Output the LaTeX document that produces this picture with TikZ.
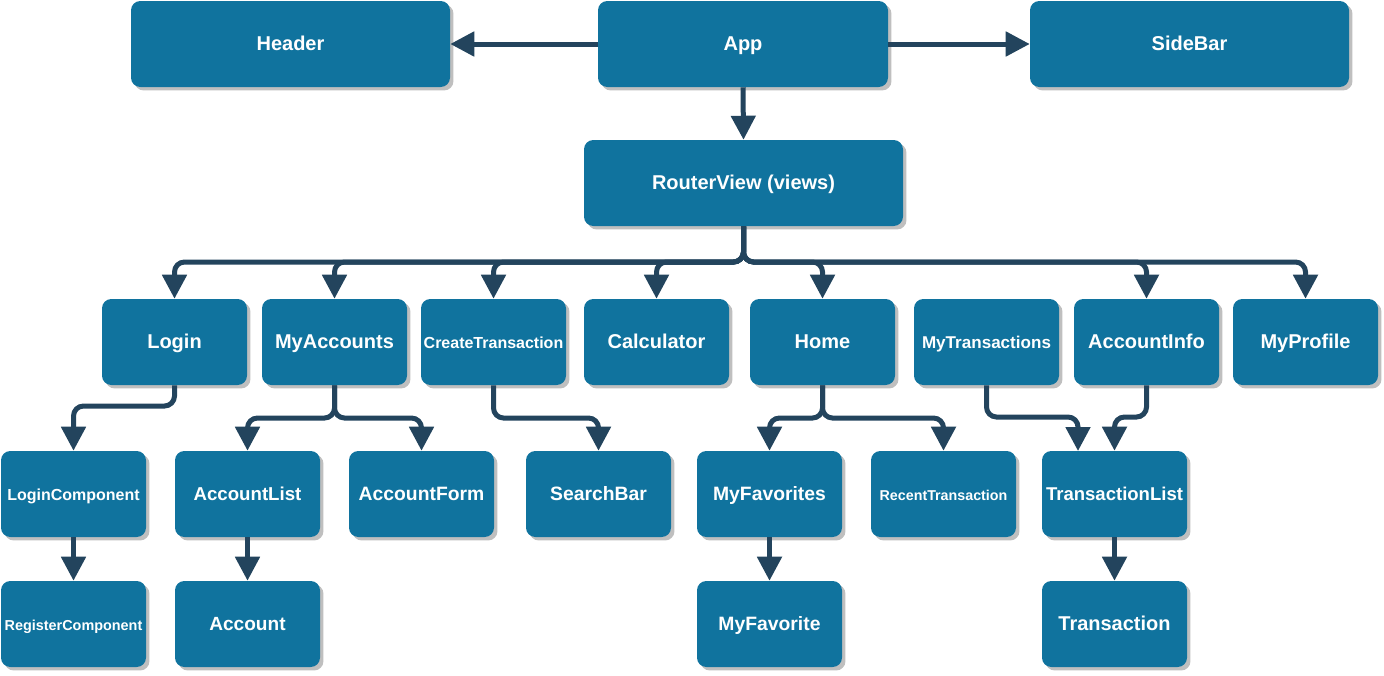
\documentclass[tikz,border=0pt]{standalone}
\usepackage{fontspec}
\setmainfont{Liberation Sans}
\usetikzlibrary{arrows.meta,shadows}
\definecolor{boxblue}{HTML}{10739E}
\definecolor{arrowblue}{HTML}{23445D}
\definecolor{shadowgray}{HTML}{BFBFBF}
\tikzset{
  comp/.style={fill=boxblue, rounded corners=7pt, text=white, inner sep=0pt,
    font=\bfseries\fontsize{15pt}{18pt}\selectfont,
    text height=1.0em, text depth=0pt,
    minimum width=108.75pt, minimum height=64.5pt,
    drop shadow={shadow xshift=2.6pt, shadow yshift=-2.6pt, fill=shadowgray, opacity=1}},
  wide/.style={minimum width=239.25pt},
  appw/.style={minimum width=217.5pt},
  conn/.style={draw=arrowblue, line width=3.75pt, rounded corners=7.5pt,
    -{Triangle[length=18pt,width=18pt]}},
  fs/.style={font=\bfseries\fontsize{#1}{#1}\selectfont}
}
\begin{document}
\begin{tikzpicture}[x=0.75pt,y=-0.75pt]
\useasboundingbox (0,0) rectangle (1384,675);
% top
\node[comp,wide] (header) at (290.5,44) {Header};
\node[comp,appw] (app) at (743,44) {App};
\node[comp,wide] (sidebar) at (1189.5,44) {SideBar};
\node[comp,wide] (rv) at (743.5,183) {RouterView (views)};
% row 2
\node[comp] (login) at (174.5,342) {Login};
\node[comp] (myacc) at (334.5,342) {MyAccounts};
\node[comp,fs=12pt] (ct) at (493.5,342) {CreateTransaction};
\node[comp] (calc) at (656.5,342) {Calculator};
\node[comp] (home) at (822.5,342) {Home};
\node[comp,fs=12.8pt] (mytx) at (986.5,342) {MyTransactions};
\node[comp] (accinfo) at (1146.5,342) {AccountInfo};
\node[comp] (profile) at (1305.5,342) {MyProfile};
% row 3
\node[comp,fs=12pt] (lc) at (73.5,494) {LoginComponent};
\node[comp,fs=14pt] (al) at (247.5,494) {AccountList};
\node[comp,fs=14.5pt] (af) at (421.5,494) {AccountForm};
\node[comp,fs=14.5pt] (sb) at (598.5,494) {SearchBar};
\node[comp,fs=14.5pt] (mf) at (769.5,494) {MyFavorites};
\node[comp,fs=10.7pt] (rt) at (943.5,494) {RecentTransaction};
\node[comp,fs=13.9pt] (tl) at (1114.5,494) {TransactionList};
% row 4
\node[comp,fs=10.8pt] (rc) at (73.5,624) {RegisterComponent};
\node[comp,fs=14.3pt] (acc) at (247.5,624) {Account};
\node[comp,fs=14.5pt] (fav) at (769.5,624) {MyFavorite};
\node[comp] (tx) at (1114.5,624) {Transaction};
% bus levels
\coordinate (busA) at (0,262);
\coordinate (busL) at (0,406);
\coordinate (busB) at (0,418);
\coordinate (busT) at (0,417);
\coordinate (tlin) at (1078,451);
% top connectors
\draw[conn] (app.west) -- (header.east);
\draw[conn] (app.east) -- (sidebar.east -| sidebar.west);
\draw[conn] (app.south) -- (rv.north);
% router view
\foreach \c in {login,myacc,ct,calc,home,accinfo,profile}
  \draw[conn] (rv.south) -- (rv.south |- busA) -- (\c.north |- busA) -- (\c.north);
% row 2 -> row 3
\draw[conn] (login.south) -- (login.south |- busL) -- (lc.north |- busL) -- (lc.north);
\draw[conn] (myacc.south) -- (myacc.south |- busB) -- (al.north |- busB) -- (al.north);
\draw[conn] (myacc.south) -- (myacc.south |- busB) -- (af.north |- busB) -- (af.north);
\draw[conn] (ct.south) -- (ct.south |- busB) -- (sb.north |- busB) -- (sb.north);
\draw[conn] (home.south) -- (home.south |- busB) -- (mf.north |- busB) -- (mf.north);
\draw[conn] (home.south) -- (home.south |- busB) -- (rt.north |- busB) -- (rt.north);
\draw[conn] (mytx.south) -- (mytx.south |- busT) -- (tlin |- busT) -- (tlin);
\draw[conn] (accinfo.south) -- (accinfo.south |- busT) -- (tl.north |- busT) -- (tl.north);
% row 3 -> row 4
\draw[conn] (lc.south) -- (rc.north);
\draw[conn] (al.south) -- (acc.north);
\draw[conn] (mf.south) -- (fav.north);
\draw[conn] (tl.south) -- (tx.north);
\end{tikzpicture}
\end{document}
